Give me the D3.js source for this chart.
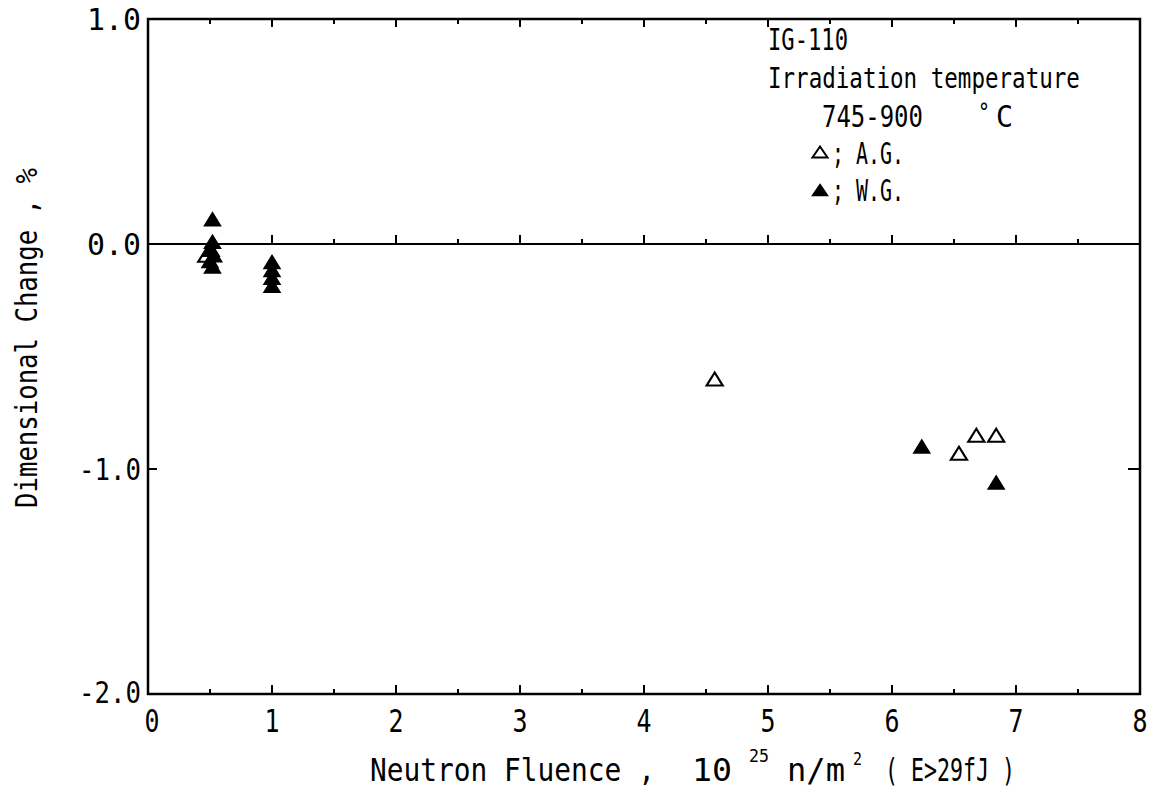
<!DOCTYPE html>
<html><head><meta charset="utf-8">
<script src="https://cdn.jsdelivr.net/npm/d3@7"></script>
<style>body{margin:0;background:#fff}svg{display:block}text{font-family:"DejaVu Sans Mono",monospace;fill:#000}</style>
</head><body>
<svg id="c" width="1153" height="788"></svg>
<script>
// ---- data ----
const xTickValues = [0,1,2,3,4,5,6,7,8];
const xTickLabels = ["0","1","2","3","4","5","6","7","8"];
const yTickValues = [1.0,0.0,-1.0,-2.0];
const yTickLabels = ["1.0","0.0","-1.0","-2.0"];
// A.G. (open triangles)
const agX = [0.47, 4.57, 6.54, 6.68, 6.84];
const agY = [-0.05, -0.60, -0.93, -0.85, -0.85];
// W.G. (filled triangles)
const wgX = [0.52, 0.52, 0.51, 0.53, 0.50, 0.52, 1.00, 1.00, 1.00, 1.00, 6.24, 6.84];
const wgY = [0.11, 0.01, -0.025, -0.05, -0.075, -0.10, -0.08, -0.115, -0.15, -0.185, -0.90, -1.06];
const legendLines = ["IG-110", "Irradiation temperature", "745-900"];

const svg = d3.select("#c");
const x = d3.scaleLinear().domain([0,8]).range([148,1140]);
const y = d3.scaleLinear().domain([-2,1]).range([694,19]);
const minorX = d3.range(0, 8.001, 0.5);

function tri(w, h){ return `M0,${-h/2}L${w/2},${h/2}L${-w/2},${h/2}Z`; }

// text helper: places text and squeezes it horizontally to a target width
function t(str, px, py, fs, len, anchor, rot){
  const g = svg.append("g").attr("transform", `translate(${px},${py})` + (rot ? ` rotate(${rot})` : ""));
  const e = g.append("text").attr("font-size", fs).text(str);
  if (anchor) e.attr("text-anchor", anchor);
  if (len) { const w = e.node().getComputedTextLength(); e.attr("transform", `scale(${len / w},1)`); }
  return e;
}

// frame
svg.append("rect").attr("x",x(0)).attr("y",y(1)).attr("width",x(8)-x(0)).attr("height",y(-2)-y(1))
  .attr("fill","none").attr("stroke","#000").attr("stroke-width",2.5);

// zero line
svg.append("line").attr("x1",x(0)).attr("x2",x(8)).attr("y1",y(0)).attr("y2",y(0))
  .attr("stroke","#000").attr("stroke-width",2.2);

const isMaj = v => Math.abs(v - Math.round(v)) < 1e-6;
svg.selectAll(".tb").data(minorX).join("line")
  .attr("x1",d=>x(d)).attr("x2",d=>x(d)).attr("y1",y(-2)).attr("y2",d=>y(-2)-(isMaj(d)?9:5))
  .attr("stroke","#000").attr("stroke-width",2);
svg.selectAll(".tz").data(minorX.filter(d=>d>0&&d<8)).join("line")
  .attr("x1",d=>x(d)).attr("x2",d=>x(d)).attr("y1",y(0)).attr("y2",d=>y(0)-(isMaj(d)?9:5))
  .attr("stroke","#000").attr("stroke-width",2);
svg.selectAll(".tt").data(minorX.filter(d=>d>0&&d<8)).join("line")
  .attr("x1",d=>x(d)).attr("x2",d=>x(d)).attr("y1",y(1)).attr("y2",d=>y(1)+(isMaj(d)?8:5))
  .attr("stroke","#000").attr("stroke-width",2);
svg.selectAll(".tl").data(yTickValues).join("line")
  .attr("x1",x(0)).attr("x2",x(0)+9).attr("y1",d=>y(d)).attr("y2",d=>y(d))
  .attr("stroke","#000").attr("stroke-width",2);
svg.selectAll(".tr").data(yTickValues).join("line")
  .attr("x1",x(8)).attr("x2",x(8)-12).attr("y1",d=>y(d)).attr("y2",d=>y(d))
  .attr("stroke","#000").attr("stroke-width",2);

// tick labels
xTickValues.forEach((d,i)=>t(xTickLabels[i], x(d)+(d===0?4:0), 732, 32, 15, "middle"));
yTickValues.forEach((d,i)=>t(yTickLabels[i], 141, y(d)+(d===-2?9:11), 30, yTickLabels[i].length===3?54:62, "end"));

// axis titles
t("Neutron Fluence ,", 370, 781, 32, 285);
t("10", 692, 781, 32, 40);
t("25", 749, 762, 18, 20);
t("n/m", 787, 781, 32, 58);
t("2", 853, 765, 18, 9);
t("( E>29fJ )", 885, 781, 32, 130);
t("Dimensional Change , %", 37, 338, 30, 340, "middle", -90);

// legend
t(legendLines[0], 768, 50, 30, 80);
t(legendLines[1], 768, 88, 28, 312);
t(legendLines[2], 822, 127, 30, 101);
t("°", 978, 121, 24, 12);
t("C", 996, 127, 30, 17);
svg.append("path").attr("d",tri(15,11)).attr("transform","translate(820,152)")
  .attr("fill","none").attr("stroke","#000").attr("stroke-width",2);
t("; A.G.", 832, 164, 30, 72);
svg.append("path").attr("d",tri(15,11)).attr("transform","translate(820,190)")
  .attr("fill","#000").attr("stroke","#000").attr("stroke-width",1.5);
t("; W.G.", 832, 201, 30, 72);

// points
svg.selectAll(".wg").data(wgX).join("path")
  .attr("d",tri(16,13)).attr("transform",(d,i)=>`translate(${x(d)},${y(wgY[i])})`)
  .attr("fill","#000").attr("stroke","#000").attr("stroke-width",1.5);
svg.selectAll(".ag").data(agX).join("path")
  .attr("d",tri(16,13)).attr("transform",(d,i)=>`translate(${x(d)},${y(agY[i])})`)
  .attr("fill","none").attr("stroke","#000").attr("stroke-width",2.2);
</script>
</body></html>
